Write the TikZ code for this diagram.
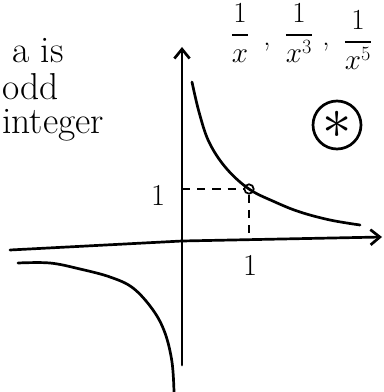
\documentclass[tikz,border=0pt]{standalone}
\usepackage{amsmath}
\usetikzlibrary{arrows.meta}
\tikzset{
  pen/.style={line width=2.3pt, line cap=round},
  guide/.style={line width=1.2pt, dash pattern=on 7pt off 6pt},
  barb/.style={-{Straight Barb[length=8pt,width=13pt]}},
  hand/.style={font=\fontsize{32}{36}\selectfont, anchor=base west, inner sep=0pt},
  frac/.style={font=\fontsize{25}{30}\selectfont, inner sep=0pt},
  tick/.style={font=\fontsize{26}{30}\selectfont, inner sep=0pt}
}
\begin{document}
\begin{tikzpicture}[x=0.3mm,y=-0.3mm]
\useasboundingbox (0,0) rectangle (383,392);
\coordinate (o) at (182,241);
\coordinate (ytop) at (182,47);
\coordinate (ybot) at (182,365);
\coordinate (xleft) at (10,250);
\coordinate (xright) at (382,237);

\draw[pen,barb] (ybot) -- (ytop);
\draw[pen,barb] (xleft) -- (o) -- (xright);

\node[circle,draw,line width=1.5pt,minimum size=8pt,inner sep=0pt] (p) at (249,189) {};
\draw[guide] (o |- p) -- (p.west);
\draw[guide] (p.south) -- (p |- o);

\draw[pen] plot[smooth,tension=0.6] coordinates {(192,82) (199,112) (209,142) (226,168) (249,189) (275,202) (300,212) (330,220) (360,225)};
\draw[pen] plot[smooth,tension=0.6] coordinates {(18,263) (50,263) (80,269) (110,277) (133,288) (153,310) (165,333) (172,362) (174,392)};

\node[tick] (oney) at (158,195) {1};
\node[tick] (onex) at (250,265) {1};

\node[hand] (t1) at (12,63) {a is};
\node[hand] (t2) at (2,100) {odd};
\node[hand] (t3) at (2,134) {integer};

\node[frac] (f1) at (240,33) {$\dfrac{1}{x}$};
\node[frac] (c1) at (267,47) {,};
\node[frac] (f3) at (299,33) {$\dfrac{1}{x^3}$};
\node[frac] (c2) at (326,47) {,};
\node[frac] (f5) at (358,40) {$\dfrac{1}{x^5}$};

\node[circle,draw,pen,minimum size=14.4mm,inner sep=0pt] (star) at (337,125) {};
\node[inner sep=0pt] (starmark) at (star.center) {\scalebox{5}{$\ast$}};
\end{tikzpicture}
\end{document}
